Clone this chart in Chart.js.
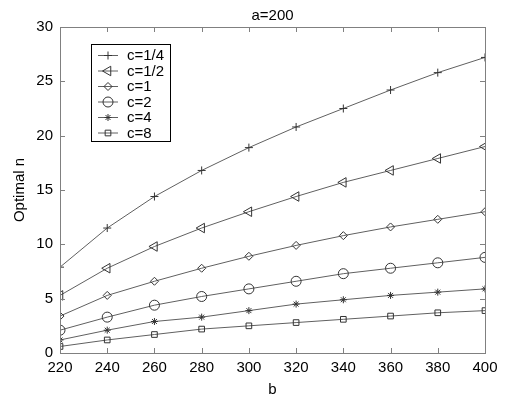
<!DOCTYPE html>
<html>
<head>
<meta charset="utf-8">
<title>Optimal n</title>
<script src="https://cdn.jsdelivr.net/npm/chart.js@4.4.1/dist/chart.umd.min.js"></script>
<style>
  html, body { margin: 0; padding: 0; background: #fff; }
  #wrap { width: 506px; height: 399px; }
</style>
</head>
<body>
<div id="wrap"><canvas id="optChart" width="506" height="399"></canvas></div>
<script>
// b values on the x axis
const bValues = [220, 240, 260, 280, 300, 320, 340, 360, 380, 400];

// optimal n for each c (a = 200)
const nQuarter = [7.9, 11.5, 14.4, 16.8, 18.9, 20.8, 22.5, 24.2, 25.8, 27.2];
const nHalf    = [5.3, 7.8, 9.8, 11.5, 13.0, 14.4, 15.7, 16.8, 17.9, 19.0];
const nOne     = [3.4, 5.3, 6.6, 7.8, 8.9, 9.9, 10.8, 11.6, 12.3, 13.0];
const nTwo     = [2.1, 3.3, 4.4, 5.2, 5.9, 6.6, 7.3, 7.8, 8.3, 8.8];
const nFour    = [1.2, 2.1, 2.9, 3.3, 3.9, 4.5, 4.9, 5.3, 5.6, 5.9];
const nEight   = [0.6, 1.2, 1.7, 2.2, 2.5, 2.8, 3.1, 3.4, 3.7, 3.9];

const seriesLabels = ['c=1/4', 'c=1/2', 'c=1', 'c=2', 'c=4', 'c=8'];
const seriesValues = [nQuarter, nHalf, nOne, nTwo, nFour, nEight];

const yTicks = [0, 5, 10, 15, 20, 25, 30];

const markers = [
  { pointStyle: 'cross', radius: 4, rotation: 0 },
  { pointStyle: 'triangle', radius: 5.5, rotation: 270 },
  { pointStyle: 'rectRot', radius: 4, rotation: 0 },
  { pointStyle: 'circle', radius: 5, rotation: 0 },
  { pointStyle: 'star', radius: 3.5, rotation: 0 },
  { pointStyle: 'rect', radius: 4, rotation: 0 }
];

const FONT = 'Arial, "Liberation Sans", Helvetica, sans-serif';
const lineColor = '#606060';
const markColor = '#333';

const datasets = seriesValues.map((vals, i) => ({
  label: seriesLabels[i],
  data: vals.map((v, j) => ({ x: bValues[j], y: v })),
  borderColor: lineColor,
  borderWidth: 1,
  pointStyle: markers[i].pointStyle,
  pointRadius: markers[i].radius,
  pointRotation: markers[i].rotation,
  pointBorderColor: markColor,
  pointBackgroundColor: 'rgba(0,0,0,0)',
  pointBorderWidth: 1,
  tension: 0,
  fill: false
}));

// box around the plot with inward ticks on all four sides
const boxTicks = {
  id: 'boxTicks',
  afterDraw(chart) {
    const { ctx, chartArea: a, scales } = chart;
    const len = 5;
    ctx.save();
    ctx.strokeStyle = '#808080';
    ctx.lineWidth = 1;
    ctx.strokeRect(a.left + 0.5, a.top + 0.5, a.right - a.left, a.bottom - a.top);
    ctx.beginPath();
    scales.x.ticks.forEach(t => {
      const px = Math.round(scales.x.getPixelForValue(t.value)) + 0.5;
      ctx.moveTo(px, a.bottom); ctx.lineTo(px, a.bottom - len);
      ctx.moveTo(px, a.top); ctx.lineTo(px, a.top + len);
    });
    scales.y.ticks.forEach(t => {
      const py = Math.round(scales.y.getPixelForValue(t.value)) + 0.5;
      ctx.moveTo(a.left, py); ctx.lineTo(a.left + len, py);
      ctx.moveTo(a.right, py); ctx.lineTo(a.right - len, py);
    });
    ctx.stroke();
    ctx.restore();
  }
};

// legend box in the upper left of the plot
const insetLegend = {
  id: 'insetLegend',
  afterDraw(chart) {
    const { ctx, chartArea: a } = chart;
    const x0 = a.left + 31, y0 = a.top + 17, w = 79, h = 97;
    const rowH = 15.5;
    ctx.save();
    ctx.fillStyle = '#fff';
    ctx.fillRect(x0, y0, w, h);
    ctx.strokeStyle = '#000';
    ctx.lineWidth = 1;
    ctx.strokeRect(x0 + 0.5, y0 + 0.5, w, h);
    ctx.font = '15px ' + FONT;
    ctx.textBaseline = 'middle';
    chart.data.datasets.forEach((ds, i) => {
      const y = y0 + 11 + i * rowH;
      ctx.strokeStyle = lineColor;
      ctx.beginPath();
      ctx.moveTo(x0 + 7, y + 0.5);
      ctx.lineTo(x0 + 27, y + 0.5);
      ctx.stroke();
      ctx.strokeStyle = markColor;
      ctx.fillStyle = 'rgba(0,0,0,0)';
      Chart.helpers.drawPoint(ctx, {
        pointStyle: ds.pointStyle,
        radius: ds.pointRadius,
        rotation: ds.pointRotation,
        borderWidth: 1
      }, x0 + 17, y + 0.5);
      ctx.fillStyle = '#000';
      ctx.fillText(ds.label, x0 + 36, y + 1);
    });
    ctx.restore();
  }
};

new Chart(document.getElementById('optChart'), {
  type: 'line',
  data: { datasets },
  plugins: [boxTicks, insetLegend],
  options: {
    responsive: false,
    animation: false,
    layout: { padding: { left: 0, right: 21, top: 0, bottom: 0 } },
    plugins: {
      legend: { display: false },
      tooltip: { enabled: false },
      title: {
        display: true,
        text: 'a=200',
        fullSize: false,
        color: '#000',
        font: { family: FONT, size: 15, weight: 'normal' },
        padding: { top: 7, bottom: 2 }
      }
    },
    scales: {
      x: {
        type: 'linear',
        min: 220,
        max: 400,
        afterBuildTicks(scale) {
          scale.ticks = bValues.map(v => ({ value: v }));
        },
        afterFit(scale) { scale.height = 46; },
        grid: { display: false, drawTicks: false },
        border: { display: false },
        ticks: { color: '#000', padding: 6, font: { family: FONT, size: 15 } },
        title: {
          display: true, text: 'b', color: '#000',
          font: { family: FONT, size: 15 }, padding: { top: 4, bottom: 0 }
        }
      },
      y: {
        min: 0,
        max: 30,
        afterBuildTicks(scale) {
          scale.ticks = yTicks.map(v => ({ value: v }));
        },
        afterFit(scale) { scale.width = 60; },
        grid: { display: false, drawTicks: false },
        border: { display: false },
        ticks: { color: '#000', padding: 7, font: { family: FONT, size: 15 } },
        title: {
          display: true, text: 'Optimal n', color: '#000',
          font: { family: FONT, size: 15 }, padding: { top: 11, bottom: 0 }
        }
      }
    }
  }
});
</script>
</body>
</html>
